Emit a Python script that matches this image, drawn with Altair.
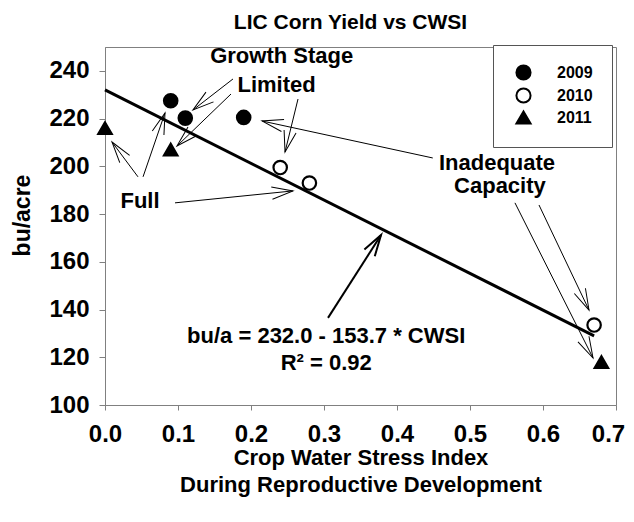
import math
import altair as alt
import pandas as pd

FONT = "Liberation Sans"

# ---------------- data ----------------
years = ["2009", "2009", "2009", "2010", "2010", "2010", "2011", "2011", "2011"]
cwsi = [0.09, 0.11, 0.19, 0.24, 0.28, 0.67, 0.00, 0.09, 0.68]
yield_bu = [227.5, 220.2, 220.5, 199.5, 193.0, 133.5, 216.0, 207.0, 118.0]
year_order = ["2009", "2010", "2011"]

fit_cwsi = [0.0, 0.67]
fit_yield = [232.0, 129.0]

x_ticks = [0.0, 0.1, 0.2, 0.3, 0.4, 0.5, 0.6, 0.7]
y_ticks = [100, 120, 140, 160, 180, 200, 220, 240]

label_text = ["Growth Stage", "Limited", "Full", "Inadequate", "Capacity",
              "bu/a = 232.0 - 153.7 * CWSI", "R² = 0.92"]
label_x = [0.242, 0.235, 0.048, 0.537, 0.541, 0.303, 0.303]
label_y = [243.3, 231.2, 182.6, 198.5, 188.9, 126.1, 114.7]

# annotation arrows: tail (x1, y1) -> tip (x2, y2)
arrow_x1 = [0.1753, 0.1726, 0.2644, 0.0452, 0.0521, 0.0959, 0.4490, 0.5945, 0.5616, 0.3055]
arrow_y1 = [236.6, 230.3, 228.2, 195.6, 195.6, 184.7, 203.5, 183.8, 184.7, 136.5]
arrow_x2 = [0.1205, 0.0986, 0.2466, 0.0096, 0.0822, 0.2575, 0.2151, 0.6630, 0.6685, 0.3781]
arrow_y2 = [223.6, 208.5, 206.0, 210.2, 222.4, 189.7, 219.0, 139.8, 119.7, 171.2]
arrow_w = [1, 1, 1, 1, 1, 1, 1, 1, 1, 2]

# ---------------- layout ----------------
W, H = 511, 358
X_DOM = [0.0, 0.7]
Y_DOM = [100, 250]
sx = W / (X_DOM[1] - X_DOM[0])
sy = H / (Y_DOM[1] - Y_DOM[0])

angles = []
for a, b, c, d in zip(arrow_x1, arrow_y1, arrow_x2, arrow_y2):
    ang = math.degrees(math.atan2((c - a) * sx, (d - b) * sy))
    angles.append((ang + 360.0) % 360.0)

pts_df = pd.DataFrame({"cwsi": cwsi, "yield": yield_bu, "year": years})
fit_df = pd.DataFrame({"cwsi": fit_cwsi, "yield": fit_yield})
lab_df = pd.DataFrame({"text": label_text, "cwsi": label_x, "yield": label_y})
arr_df = pd.DataFrame({"x1": arrow_x1, "y1": arrow_y1, "x2": arrow_x2,
                       "y2": arrow_y2, "w": arrow_w, "ang": angles})

xs = alt.Scale(domain=X_DOM, nice=False, zero=False)
ys = alt.Scale(domain=Y_DOM, nice=False, zero=False)

GRAY = "#808080"
x_axis = alt.Axis(values=x_ticks, format=".1f", grid=False, labelFlush=False,
                  labelFontSize=24, labelFontWeight="bold", labelColor="black",
                  labelFont=FONT, labelPadding=12, tickSize=5, tickColor=GRAY,
                  labelOffset={"condition": {"test": "datum.value >= 0.69", "value": -8},
                               "value": 0},
                  domainColor=GRAY,
                  title=["Crop Water Stress Index", "During Reproductive Development"],
                  titleFont=FONT, titleFontSize=22, titleFontWeight="bold",
                  titleColor="black", titleBaseline="top", titleY=42,
                  titleLineHeight=27)
y_axis = alt.Axis(values=y_ticks, format="d", grid=False, labelFlush=False,
                  labelFontSize=24, labelFontWeight="bold", labelColor="black",
                  labelFont=FONT, labelPadding=10, tickSize=6, tickColor=GRAY,
                  domainColor=GRAY,
                  title="bu/acre", titleFont=FONT, titleFontSize=23,
                  titleFontWeight="bold", titleColor="black",
                  titleX=-83, titleY=168, titleBaseline="middle")

def X(field):
    return alt.X(field, type="quantitative", scale=xs, axis=x_axis)

def Y(field):
    return alt.Y(field, type="quantitative", scale=ys, axis=y_axis)

legend = alt.Legend(title=None, orient="none", legendX=388, legendY=-2,
                    labelFont=FONT, labelFontSize=16, labelFontWeight="bold",
                    labelColor="black", labelOffset=25, symbolOffset=3,
                    symbolSize=200, symbolStrokeWidth=2, padding=19,
                    rowPadding=0, strokeColor="#555555", fillColor="white")

fit = alt.Chart(fit_df).mark_line(color="black", strokeWidth=3).encode(
    x=X("cwsi"), y=Y("yield"))

pts = alt.Chart(pts_df).mark_point(filled=True, strokeWidth=2.2,
                                   size=180, opacity=1).encode(
    x=X("cwsi"), y=Y("yield"),
    shape=alt.Shape("year:N", scale=alt.Scale(domain=year_order,
                    range=["circle", "circle", "triangle-up"]), legend=legend),
    fill=alt.Fill("year:N", scale=alt.Scale(domain=year_order,
                  range=["black", "white", "black"]), legend=legend),
    stroke=alt.Stroke("year:N", scale=alt.Scale(domain=year_order,
                      range=["black", "black", "black"]), legend=legend),
)

lines = alt.Chart(arr_df).mark_rule(color="black").encode(
    x=X("x1"), y=Y("y1"), x2="x2", y2="y2",
    strokeWidth=alt.StrokeWidth("w:Q", scale=None))

heads = alt.Chart(arr_df).mark_point(
    shape="M-0.29,1L0,0L0.29,1", filled=False, color="black", size=1800,
    opacity=1).encode(
    x=X("x2"), y=Y("y2"),
    angle=alt.Angle("ang:Q", scale=None),
    strokeWidth=alt.StrokeWidth("w:Q", scale=None))

labels = alt.Chart(lab_df).mark_text(font=FONT, fontSize=22, fontWeight="bold",
                                     color="black", align="center",
                                     baseline="alphabetic").encode(
    x=X("cwsi"), y=Y("yield"), text="text:N")

chart = alt.layer(fit, lines, heads, pts, labels).properties(
    width=W, height=H,
    title=alt.TitleParams("LIC Corn Yield vs CWSI", font=FONT, fontSize=21,
                          fontWeight="bold", color="black", anchor="middle",
                          offset=12, dx=-10),
    autosize=alt.AutoSizeParams(type="none"),
    padding={"left": 97, "top": 39, "right": 10, "bottom": 109},
).configure_view(stroke=GRAY, strokeWidth=1)

chart.save("out.html", embed_options={"renderer": "svg", "actions": False})
